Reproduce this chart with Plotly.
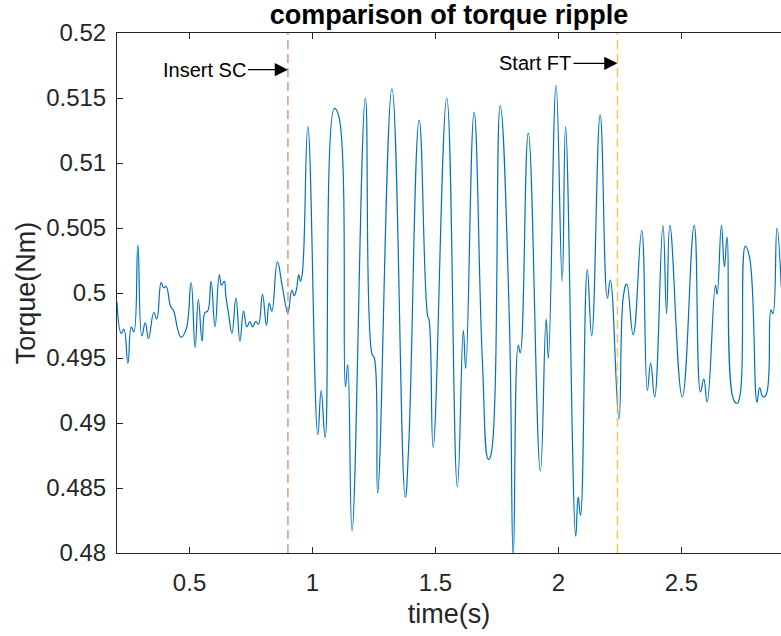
import plotly.graph_objects as go

# ---- data ----
time_s = [
    0.205, 0.2225, 0.2331, 0.2493, 0.2631, 0.2736, 0.2898, 0.3060, 0.3198, 0.3332,
    0.3547, 0.3668, 0.3847, 0.3952, 0.4049, 0.4224, 0.4358, 0.4520, 0.4658, 0.4860,
    0.5063, 0.5225, 0.5359, 0.5509, 0.5630, 0.5736, 0.5874, 0.6036, 0.6210, 0.6303,
    0.6413, 0.6473, 0.6587, 0.6725, 0.6887, 0.7049, 0.7195, 0.7333, 0.7454, 0.7560,
    0.7698, 0.7803, 0.7965, 0.8127, 0.8237, 0.8346, 0.8573, 0.878, 0.900, 0.916,
    0.926, 0.935, 0.944, 0.951, 0.959, 0.9811, 1.0216, 1.0351, 1.0514, 1.0892,
    1.1068, 1.1338, 1.1432, 1.1608, 1.2149, 1.2419, 1.2514, 1.2649, 1.3230, 1.3770,
    1.3905, 1.4338, 1.4676, 1.4743, 1.4905, 1.5459, 1.5890, 1.6133, 1.6229, 1.6569,
    1.6909, 1.7155, 1.7250, 1.7631, 1.7998, 1.8162, 1.8367, 1.8448, 1.8775, 1.9265,
    1.9497, 1.9591, 1.9904, 2.0152, 2.0290, 2.0703, 2.0800, 2.0897, 2.1172, 2.1352,
    2.1697, 2.1990, 2.2110, 2.2460, 2.2643, 2.2777, 2.3040, 2.3385, 2.3616, 2.3750,
    2.3912, 2.4248, 2.4398, 2.4532, 2.5035, 2.5520, 2.5777, 2.5910, 2.6048, 2.6385,
    2.6453, 2.6628, 2.6749, 2.6859, 2.7102, 2.7264, 2.7398, 2.7601, 2.7775, 2.8075,
    2.8180, 2.8318, 2.8452, 2.8642, 2.8723, 2.8886, 2.9060,
]
torque_nm = [
    0.4993, 0.4969, 0.4972, 0.4946, 0.4974, 0.4970, 0.5037, 0.4967, 0.4977, 0.4965,
    0.4985, 0.4980, 0.5008, 0.5004, 0.5005, 0.4990, 0.4986, 0.4972, 0.4966, 0.4972,
    0.5008, 0.4958, 0.4995, 0.4963, 0.4985, 0.4986, 0.5009, 0.4974, 0.5014, 0.5006,
    0.5009, 0.4998, 0.4984, 0.4969, 0.4996, 0.4963, 0.4986, 0.4974, 0.4978, 0.4974,
    0.4978, 0.4976, 0.4999, 0.4975, 0.4992, 0.4986, 0.5024, 0.5004, 0.4985, 0.5002,
    0.4998, 0.5003, 0.5014, 0.5009, 0.5016, 0.5128, 0.4891, 0.4925, 0.4889, 0.5142,
    0.5136, 0.4928, 0.4945, 0.4817, 0.5150, 0.4953, 0.4950, 0.4846, 0.5157, 0.4843,
    0.4880, 0.5133, 0.4983, 0.4979, 0.4881, 0.5150, 0.4851, 0.4971, 0.4942, 0.5139,
    0.4947, 0.4872, 0.4875, 0.5144, 0.4984, 0.4797, 0.4960, 0.4954, 0.5123, 0.4863,
    0.4980, 0.4950, 0.5160, 0.5009, 0.5128, 0.4813, 0.4843, 0.4829, 0.5018, 0.4967,
    0.5137, 0.4996, 0.5010, 0.4903, 0.4998, 0.5007, 0.4968, 0.5048, 0.4925, 0.4946,
    0.4920, 0.5052, 0.4984, 0.5052, 0.4920, 0.5052, 0.4924, 0.4934, 0.4916, 0.5006,
    0.4999, 0.5052, 0.5020, 0.5043, 0.4919, 0.4915, 0.4923, 0.5036, 0.5027, 0.4916,
    0.4927, 0.4920, 0.4922, 0.4987, 0.4984, 0.5050, 0.5005,
]

event_times = [0.9, 2.24]
event_labels = ["Insert SC", "Start FT"]
event_arrow_y = [0.51718, 0.51767]

x_tickvals = [0.5, 1, 1.5, 2, 2.5]
x_ticktext = ["0.5", "1", "1.5", "2", "2.5"]
y_tickvals = [0.48, 0.485, 0.49, 0.495, 0.5, 0.505, 0.51, 0.515, 0.52]
y_ticktext = ["0.48", "0.485", "0.49", "0.495", "0.5", "0.505", "0.51", "0.515", "0.52"]

FONT = "Liberation Sans, Arial, Helvetica, sans-serif"
AXCOL = "#262626"
FIG_W, FIG_H = 781, 636

fig = go.Figure()
fig.add_trace(go.Scatter(
    x=time_s, y=torque_nm, mode="lines",
    line=dict(color="#0072BD", width=1.2, shape="spline", smoothing=1.3),
    hoverinfo="x+y",
))

event_colors = ["rgba(217,83,25,0.65)", "rgba(237,177,32,0.75)"]
for t, c in zip(event_times, event_colors):
    fig.add_shape(type="line", xref="x", yref="paper", x0=t, x1=t, y0=0, y1=1,
                  line=dict(color=c, width=1.4, dash="9px,5px"))

tails = [-40, -44]
for t, lab, ya, ax in zip(event_times, event_labels, event_arrow_y, tails):
    fig.add_annotation(
        x=t, y=ya, xref="x", yref="y", ax=ax, ay=0, axref="pixel", ayref="pixel",
        text=lab, showarrow=True, arrowhead=2, arrowsize=2.2, arrowwidth=1.2,
        arrowcolor="black", xanchor="right", yanchor="middle",
        font=dict(family=FONT, size=20, color="black"), standoff=0, startstandoff=0,
    )

fig.update_layout(
    width=FIG_W, height=FIG_H,
    margin=dict(l=117, r=0, t=33, b=83),
    paper_bgcolor="white", plot_bgcolor="white",
    showlegend=False, hovermode=False,
    title=dict(text="<b>comparison of torque ripple</b>", x=0.5, xref="paper",
               y=1 - 15 / FIG_H, yref="container", yanchor="middle",
               xanchor="center",
               font=dict(family=FONT, size=27, color="black")),
)
fig.update_xaxes(
    range=[0.205, 2.905], showgrid=False, zeroline=False, automargin=False,
    showline=True, linecolor=AXCOL, linewidth=1, mirror="ticks",
    ticks="inside", ticklen=6, tickcolor=AXCOL,
    tickvals=x_tickvals, ticktext=x_ticktext,
    tickfont=dict(family=FONT, size=24, color=AXCOL),
    ticklabelstandoff=8,
    title=dict(text="time(s)", font=dict(family=FONT, size=27, color=AXCOL), standoff=9),
)
fig.update_yaxes(
    range=[0.48, 0.52], showgrid=False, zeroline=False, automargin=False,
    showline=True, linecolor=AXCOL, linewidth=1, mirror=False,
    ticks="inside", ticklen=6, tickcolor=AXCOL,
    tickvals=y_tickvals, ticktext=y_ticktext,
    tickfont=dict(family=FONT, size=24, color=AXCOL),
    ticklabelstandoff=5,
    title=dict(text="Torque(Nm)", font=dict(family=FONT, size=27, color=AXCOL), standoff=2),
)

# remove the page's default body margin so the figure fills the window exactly
fig.write_html(
    "out.html",
    config={"displayModeBar": False},
    post_script="document.body.style.margin='0';document.documentElement.style.overflow='hidden';",
)
